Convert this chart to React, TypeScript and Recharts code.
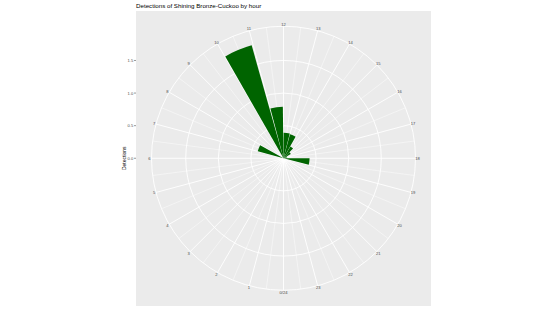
import { RadialBarChart, RadialBar, PolarAngleAxis, PolarRadiusAxis, PolarGrid } from 'recharts';

// hour bins [h, h+1) and detections per bin
const hours = [0, 1, 2, 3, 4, 5, 6, 7, 8, 9, 10, 11, 12, 13, 14, 15, 16, 17, 18, 19, 20, 21, 22, 23];
const detections = [0, 0, 0, 0, 0, 0, 0, 0.41, 0, 0, 1.8, 0.79, 0.39, 0.38, 0.21, 0.13, 0.06, 0, 0.4, 0, 0, 0, 0, 0];

const hourTicks = [0, 1, 2, 3, 4, 5, 6, 7, 8, 9, 10, 11, 12, 13, 14, 15, 16, 17, 18, 19, 20, 21, 22, 23];
const halfHourTicks = [0.5, 1.5, 2.5, 3.5, 4.5, 5.5, 6.5, 7.5, 8.5, 9.5, 10.5, 11.5, 12.5, 13.5, 14.5, 15.5, 16.5, 17.5, 18.5, 19.5, 20.5, 21.5, 22.5, 23.5];
const radiusTicks = [0, 0.5, 1, 1.5];

const title = 'Detections of Shining Bronze-Cuckoo by hour';
const yTitle = 'Detections';

// recharts runs angles counter-clockwise and puts each category's bar one band
// clockwise of its slot, so the bins go in as 0, 23, 22, ..., 1
const binOrder = [hours[0], ...hours.slice(1).reverse()];
const data = binOrder.map((h) => ({ hour: h, detections: detections[hours.indexOf(h)] }));

const W = 553;
const H = 318;
const PANEL = { x: 136, y: 11, w: 295, h: 294.5 };
const CX = 283.5;
const CY = 158.25;
const OUTER = 132;
// ggplot puts the data max at 0.4 and the outer theta circle at 0.45
const rLimit = Math.max(...detections) * 1.125;

const FONT = '"Liberation Sans", Arial, Helvetica, sans-serif';

const HourTick = (props: any) => {
  const { x, y, payload } = props;
  const label = payload.value === 0 ? '0/24' : String(payload.value);
  return (
    <text x={x} y={y} textAnchor="middle" dominantBaseline="central" fontSize={4.1} fill="#4D4D4D" fontFamily={FONT}>
      {label}
    </text>
  );
};

const RadiusTick = (props: any) => {
  const { y, payload } = props;
  return (
    <g>
      <line x1={PANEL.x - 2} x2={PANEL.x} y1={y} y2={y} stroke="#333333" strokeWidth={0.5} />
      <text x={PANEL.x - 2.7} y={y} textAnchor="end" dominantBaseline="central" fontSize={4.1} fill="#4D4D4D" fontFamily={FONT}>
        {Number(payload.value).toFixed(1)}
      </text>
    </g>
  );
};

export default function App() {
  return (
    <div style={{ position: 'absolute', left: 0, top: 0, width: W, height: H, background: '#fff' }}>
      <div
        style={{ position: 'absolute', left: PANEL.x, top: PANEL.y, width: PANEL.w, height: PANEL.h, background: '#EBEBEB' }}
      />
      <div style={{ position: 'absolute', left: 0, top: 0 }}>
        <RadialBarChart
          width={W}
          height={H}
          data={data}
          cx={CX}
          cy={CY}
          innerRadius={0}
          outerRadius={OUTER}
          startAngle={-90}
          endAngle={270}
          layout="centric"
          barCategoryGap="5%"
          margin={{ top: 0, right: 0, bottom: 0, left: 0 }}
        >
          <PolarAngleAxis angleAxisId={0} dataKey="hour" type="category" tick={false} tickLine={false} axisLine={false} />
          <PolarAngleAxis
            angleAxisId="num"
            dataKey="hour"
            type="number"
            domain={[0, 24]}
            allowDataOverflow
            reversed
            ticks={hourTicks}
            tick={<HourTick />}
            tickSize={2}
            tickLine={false}
            axisLine={false}
          />
          <PolarAngleAxis
            angleAxisId="minor"
            dataKey="hour"
            type="number"
            domain={[0, 24]}
            allowDataOverflow
            reversed
            ticks={halfHourTicks}
            tick={false}
            tickLine={false}
            axisLine={false}
          />
          <PolarRadiusAxis
            radiusAxisId={0}
            type="number"
            domain={[0, rLimit]}
            ticks={radiusTicks}
            angle={90}
            tick={<RadiusTick />}
            tickLine={false}
            axisLine={false}
          />
          <PolarGrid angleAxisId="minor" radiusAxisId={0} polarRadius={[]} stroke="#FFFFFF" strokeWidth={0.45} />
          <PolarGrid angleAxisId="num" radiusAxisId={0} gridType="circle" stroke="#FFFFFF" strokeWidth={0.9} />
          <PolarGrid polarAngles={[]} polarRadius={[OUTER]} gridType="circle" stroke="#FFFFFF" strokeWidth={0.9} />
          <RadialBar angleAxisId={0} radiusAxisId={0} dataKey="detections" fill="#006400" isAnimationActive={false} />
        </RadialBarChart>
      </div>
      <svg width={W} height={H} style={{ position: 'absolute', left: 0, top: 0, pointerEvents: 'none' }}>
        <text x={PANEL.x} y={7.7} fontSize={6.2} fill="#000000" fontFamily={FONT}>
          {title}
        </text>
        <text
          x={123.5}
          y={CY}
          fontSize={5}
          fill="#000000"
          fontFamily={FONT}
          textAnchor="middle"
          dominantBaseline="central"
          transform={`rotate(-90 123.5 ${CY})`}
        >
          {yTitle}
        </text>
      </svg>
    </div>
  );
}
